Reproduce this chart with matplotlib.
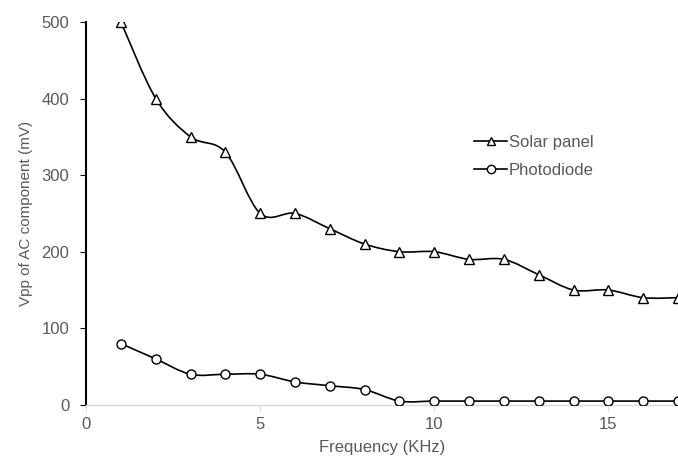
import numpy as np
import matplotlib
matplotlib.use("Agg")
import matplotlib.pyplot as plt
from matplotlib.path import Path
from matplotlib.patches import PathPatch
from matplotlib.lines import Line2D

plt.rcParams['font.family'] = ['Liberation Sans', 'DejaVu Sans']

freq = [1, 2, 3, 4, 5, 6, 7, 8, 9, 10, 11, 12, 13, 14, 15, 16, 17]
solar = [500, 400, 350, 330, 250, 250, 230, 210, 200, 200, 190, 190, 170, 150, 150, 140, 140]
photo = [80, 60, 40, 40, 40, 30, 25, 20, 5, 5, 5, 5, 5, 5, 5, 5, 5]

GRAY = '#595959'
FS = 12

def smooth_path(x, y):
    x = np.asarray(x, float); y = np.asarray(y, float)
    n = len(x)
    verts = [(x[0], y[0])]
    codes = [Path.MOVETO]
    for i in range(n - 1):
        x0, y0 = (x[i - 1], y[i - 1]) if i > 0 else (x[i], y[i])
        x3, y3 = (x[i + 2], y[i + 2]) if i + 2 < n else (x[i + 1], y[i + 1])
        c1 = (x[i] + (x[i + 1] - x0) / 6, y[i] + (y[i + 1] - y0) / 6)
        c2 = (x[i + 1] - (x3 - x[i]) / 6, y[i + 1] - (y3 - y[i]) / 6)
        verts += [c1, c2, (x[i + 1], y[i + 1])]
        codes += [Path.CURVE4] * 3
    return Path(verts, codes)

fig = plt.figure(figsize=(6.78, 4.57), dpi=100)
ax = fig.add_axes([0.127, 0.114, 0.873, 0.838])

for ys, mk in [(solar, '^'), (photo, 'o')]:
    ax.add_patch(PathPatch(smooth_path(freq, ys), facecolor='none', edgecolor='black', lw=1.2, zorder=2))
    ax.plot(freq, ys, linestyle='none', marker=mk, markersize=6.5 if mk == 'o' else 7.5,
            markerfacecolor='white', markeredgecolor='black', markeredgewidth=1.0, zorder=3)

ax.set_xlim(0, 17)
ax.set_ylim(0, 500)
ax.set_xticks([0, 5, 10, 15])
ax.set_yticks([0, 100, 200, 300, 400, 500])

for s in ['top', 'right']:
    ax.spines[s].set_visible(False)
ax.spines['left'].set_color('black')
ax.spines['left'].set_linewidth(1.5)
ax.spines['bottom'].set_color('#d9d9d9')
ax.spines['bottom'].set_linewidth(1.0)
ax.tick_params(axis='x', colors='#d9d9d9', labelcolor=GRAY, labelsize=FS, length=4, width=0.8, pad=5)
ax.tick_params(axis='y', colors='black', labelcolor=GRAY, labelsize=FS, length=4, width=0.8, pad=8)

ax.set_xlabel('Frequency (KHz)', color=GRAY, fontsize=FS, labelpad=5.5)
ax.set_ylabel('Vpp of AC component (mV)', color=GRAY, fontsize=11, labelpad=6)

handles = [
    Line2D([], [], color='black', lw=1.2, marker='^', markersize=6, markerfacecolor='white', markeredgecolor='black'),
    Line2D([], [], color='black', lw=1.2, marker='o', markersize=6, markerfacecolor='white', markeredgecolor='black'),
]
leg = ax.legend(handles, ['Solar panel', 'Photodiode'], loc='upper left', bbox_to_anchor=(0.63, 0.745),
                frameon=False, fontsize=FS, handlelength=2.0, handletextpad=0.1, labelspacing=0.8)
for t in leg.get_texts():
    t.set_color(GRAY)

fig.savefig('out.png', dpi=100)
